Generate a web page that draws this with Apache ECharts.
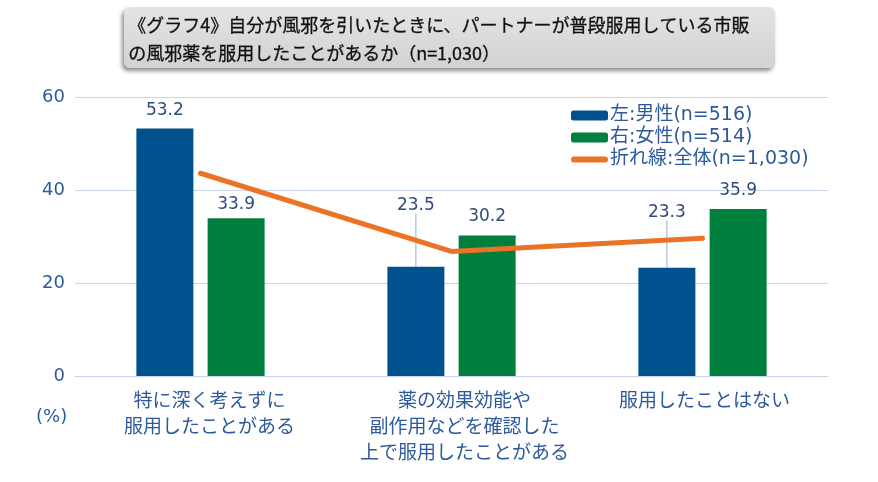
<!DOCTYPE html>
<html><head><meta charset="utf-8">
<script src="https://cdn.jsdelivr.net/npm/echarts@6/dist/echarts.min.js"></script>
<style>html,body{margin:0;padding:0;background:#fff}#c{width:878px;height:482px}</style>
</head><body><div id="c"></div>
<script>
const categories = ['特に深く考えずに\n服用したことがある', '薬の効果効能や\n副作用などを確認した\n上で服用したことがある', '服用したことはない'];
const male = [53.2, 23.5, 23.3];
const female = [33.9, 30.2, 35.9];
const total = [43.6, 26.8, 29.6];
const yTicks = [0, 20, 40, 60];
const seriesNames = ['左:男性(n=516)', '右:女性(n=514)', '折れ線:全体(n=1,030)'];
const titleLines = ['《グラフ4》自分が風邪を引いたときに、パートナーが普段服用している市販', 'の風邪薬を服用したことがあるか（n=1,030）'];

const font = '"DejaVu Sans", "Noto Sans CJK JP", sans-serif';
const cjk = '"Noto Sans CJK JP", "Noto Sans", sans-serif';
const blueText = '#2d5a9c';
const labelShift = [18, 26, 4];   // left padding to nudge category labels
const maleLabelDy = [0, -43, -37];

const chart = echarts.init(document.getElementById('c'));
chart.setOption({
  animation: false,
  textStyle: { fontFamily: font },
  graphic: [
    { type: 'rect', left: 124, top: 7, shape: { width: 651, height: 61, r: 6 },
      style: { fill: new echarts.graphic.LinearGradient(0,0,0,1,[{offset:0,color:'#e4e4e4'},{offset:1,color:'#d2d2d2'}]),
        shadowBlur: 4, shadowOffsetX: -2, shadowOffsetY: 3, shadowColor: 'rgba(0,0,0,0.45)' } },
    { type: 'text', left: 128, top: 11, style: { text: titleLines.join('\n'), font: '18px ' + cjk, lineHeight: 28, fill: '#111', stroke: '#111', lineWidth: 0.3 } },
    { type: 'text', left: 36, top: 408, style: { text: '(%)', font: '18px ' + font, fill: blueText } }
  ],
  grid: { left: 75, right: 50, top: 97, bottom: 106 },
  legend: {
    orient: 'vertical', left: 566, top: 101, itemWidth: 37, itemHeight: 10, itemGap: 3,
    textStyle: { fontSize: 19, color: blueText, fontFamily: font, padding: [0,0,0,-3] },
    data: [
      { name: seriesNames[0] },
      { name: seriesNames[1] },
      { name: seriesNames[2], icon: 'path://M3,0 L34,0 A3,3 0 0 1 34,6 L3,6 A3,3 0 0 1 3,0 Z' }
    ]
  },
  xAxis: {
    type: 'category',
    data: categories.map((c, i) => ({ value: c, textStyle: { padding: [0, 0, 0, labelShift[i]] } })),
    axisLine: { show: true, lineStyle: { color: '#c9d6e6' } },
    axisTick: { show: false },
    axisLabel: { fontSize: 19, fontFamily: cjk, color: blueText, lineHeight: 26, margin: 11, interval: 0 }
  },
  yAxis: {
    type: 'value', min: 0, max: 60, interval: 20,
    axisLine: { show: false }, axisTick: { show: false },
    splitLine: { lineStyle: { color: '#c9d6e6' } },
    axisLabel: { fontSize: 18, color: blueText, margin: 10, formatter: v => yTicks.includes(v) ? String(v) : '' }
  },
  series: [
    { name: seriesNames[0], type: 'bar', barWidth: 57, barGap: '25%',
      data: male.map((v, i) => ({ value: v, labelLine: { show: maleLabelDy[i] !== 0 } })),
      itemStyle: { color: '#00528f' },
      label: { show: true, position: 'top', fontSize: 17, color: '#2f4b7c', distance: 10 },
      labelLine: { show: true, lineStyle: { color: '#8db3e2', width: 1 } },
      labelLayout: function (p) {
        return maleLabelDy[p.dataIndex] ? { dy: maleLabelDy[p.dataIndex] } : {};
      } },
    { name: seriesNames[1], type: 'bar', data: female, barWidth: 57,
      itemStyle: { color: '#007f3d' },
      label: { show: true, position: 'top', fontSize: 17, color: '#2f4b7c', distance: 10 },
      labelLayout: function (p) {
        if (p.dataIndex === 0) return { dy: 5 };
        return {};
      } },
    { name: seriesNames[2], type: 'line', data: total, symbol: 'none', z: 5,
      lineStyle: { color: '#ec7225', width: 5, cap: 'round' },
      itemStyle: { color: '#ec7225' } }
  ]
});
</script></body></html>
